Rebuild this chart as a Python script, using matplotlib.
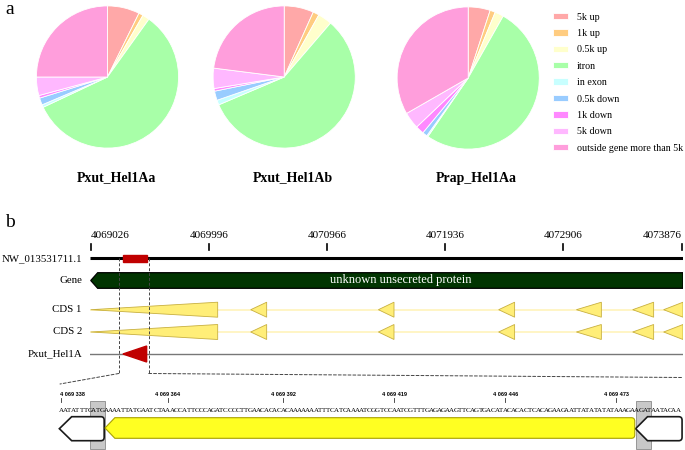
import matplotlib
matplotlib.use("Agg")
import matplotlib.pyplot as plt
from matplotlib.patches import Polygon, Rectangle, PathPatch, ConnectionPatch
from matplotlib.path import Path

plt.rcParams['font.family'] = ['Liberation Serif', 'DejaVu Serif']

# ---- panel a: insertion site distribution ----
categories = ['5k up', '1k up', '0.5k up', 'itron', 'in exon', '0.5k down',
              '1k down', '5k down', 'outside gene more than 5k']
cat_colors = ['#ffa8a8', '#ffcc80', '#ffffcc', '#a8ffa8', '#c8ffff', '#99ccff',
              '#ff88ff', '#ffb8ff', '#ff9edc']
pxut_hel1aa = [7.3, 1.0, 1.6, 58.1, 0.6, 1.6, 0.6, 4.2, 25.0]
pxut_hel1ab = [6.7, 1.4, 3.2, 57.3, 1.1, 2.1, 0.6, 4.6, 23.0]
prap_hel1aa = [5.0, 1.2, 2.0, 51.4, 0.3, 1.1, 1.9, 3.8, 33.3]
pie_names = ['Pxut_Hel1Aa', 'Pxut_Hel1Ab', 'Prap_Hel1Aa']

# ---- panel b: genomic locus ----
scaffold = 'NW_013531711.1'
region = (4069020, 4073887)
scale_ticks = [4069026, 4069996, 4070966, 4071936, 4072906, 4073876]
gene_label = 'unknown unsecreted protein'
gene_span = (4069026, 4073887)
cds_exons = [(4069026, 4070068), (4070339, 4070470), (4071387, 4071515),
             (4072374, 4072505), (4073012, 4073217), (4073474, 4073646),
             (4073728, 4073887)]
hel1a = (4069290, 4069485)
zoom_window = (4069256, 4069502)

# ---- zoomed sequence ----
seq_start = 4069338
sequence = ("AATATTTGATGAAAATTATGAATCTAAACCATTCCCAGATCCCCTTGAACACACACAAAAAAATTTC"
            "ATCAAAATCGGTCCAATCGTTTGAGAGAAGTTCAGTGACATACACACTCACAGAAGAATTATATATA"
            "TAAAGAAGATAATACAA")
seq_ticks = [4069338, 4069364, 4069392, 4069419, 4069446, 4069473]
tsd_boxes = [(4069345.0, 4069348.7), (4069477.7, 4069481.4)]
flank_left = (4069337.6, 4069340.6, 4069348.5)
te_body = (4069348.7, 4069351.1, 4069477.5)
flank_right = (4069477.7, 4069480.6, 4069489.0)

W, H = 685, 450
fig = plt.figure(figsize=(W / 100, H / 100), dpi=100)


def px_axes(x0, y0, x1, y1):
    return fig.add_axes([x0 / W, 1 - y1 / H, (x1 - x0) / W, (y1 - y0) / H])


def arrow_path(tip, shoulder, end, yc, hh, rx, ry):
    verts = [(tip, yc), (shoulder, yc - hh), (end - rx, yc - hh), (end, yc - hh),
             (end, yc - hh + ry), (end, yc + hh - ry), (end, yc + hh),
             (end - rx, yc + hh), (shoulder, yc + hh), (tip, yc)]
    codes = [Path.MOVETO, Path.LINETO, Path.LINETO, Path.CURVE3, Path.CURVE3,
             Path.LINETO, Path.CURVE3, Path.CURVE3, Path.LINETO, Path.CLOSEPOLY]
    return Path(verts, codes)


fig.text(5 / W, 1 - 9 / H, 'a', fontsize=14, va='center', ha='left')
fig.text(5 / W, 1 - 222 / H, 'b', fontsize=14, va='center', ha='left')

# pies
centers = [(107.5, 77), (284.2, 77), (468.2, 78)]
wedges = None
for vals, name, (cx, cy) in zip([pxut_hel1aa, pxut_hel1ab, prap_hel1aa], pie_names, centers):
    ax = px_axes(cx - 72.5, cy - 72.5, cx + 72.5, cy + 72.5)
    w, _ = ax.pie(vals, colors=cat_colors, startangle=90, counterclock=False,
                  wedgeprops=dict(edgecolor='white', linewidth=0.6))
    ax.set_xlim(-1.02, 1.02)
    ax.set_ylim(-1.02, 1.02)
    ax.text(0.12, -1.42, name, ha='center', va='center', fontsize=10,
            fontweight='bold', clip_on=False)
    if wedges is None:
        wedges = w

fig.legend(wedges, categories, loc='upper left', bbox_to_anchor=(553 / W, 1 - 12.5 / H),
           frameon=False, fontsize=7.2, handlelength=1.5, handleheight=0.6,
           handletextpad=0.9, labelspacing=0.74, borderpad=0, borderaxespad=0)

# genomic track
ax = px_axes(90, 228, 683, 374)
ax.set_xlim(*region)
ax.set_ylim(374, 228)
ax.axis('off')
lab = ax.get_yaxis_transform()

row_chrom, row_gene, row_cds1, row_cds2, row_te = 258.3, 280.5, 309.7, 332.0, 354.0

ax.plot(region, [row_chrom, row_chrom], color='black', lw=2.2, solid_capstyle='butt')
for i, t in enumerate(scale_ticks):
    ax.plot([t, t], [244, 250], color='black', lw=1.2)
    ha = 'left' if i == 0 else ('right' if i == len(scale_ticks) - 1 else 'center')
    ax.text(t, 236, str(t), ha=ha, va='center', fontsize=8)
ax.add_patch(Rectangle((hel1a[0], row_chrom - 3.8), hel1a[1] - hel1a[0], 7.6,
                       color='#c00000', zorder=3))

tip_len = 57
ax.add_patch(Polygon([(gene_span[0], row_gene), (gene_span[0] + tip_len, row_gene - 7.8),
                      (gene_span[1], row_gene - 7.8), (gene_span[1], row_gene + 7.8),
                      (gene_span[0] + tip_len, row_gene + 7.8)],
                     facecolor='#013501', edgecolor='black', lw=0.9))
ax.text(4071570, row_gene, gene_label, color='white', fontsize=9, ha='center', va='center')

for row in [row_cds1, row_cds2]:
    ax.plot([cds_exons[0][0], cds_exons[-1][1]], [row, row], color='#fff5c0', lw=1.3, zorder=1)
    for s, e in cds_exons:
        ax.add_patch(Polygon([(s, row), (e, row - 7.5), (e, row + 7.5)],
                             facecolor='#ffee78', edgecolor='#c8b040', lw=0.6, zorder=2))

ax.plot(region, [row_te, row_te], color='#777777', lw=1.0)
ax.add_patch(Polygon([(hel1a[0], row_te), (hel1a[1], row_te - 8), (hel1a[1], row_te + 8)],
                     color='#c00000', zorder=3))

for txt, row in [(scaffold, row_chrom), ('Gene', row_gene), ('CDS 1', row_cds1),
                 ('CDS 2', row_cds2), ('Pxut_Hel1A', row_te)]:
    ax.text(-0.0135, row, txt, transform=lab, ha='right', va='center', fontsize=7.8)

for x in zoom_window:
    ax.plot([x, x], [row_chrom, 373.5], color='#444444', lw=0.7, ls=(0, (3, 2)))

# zoomed sequence
axs = px_axes(57, 377, 684, 450)
axs.set_xlim(seq_start - 0.97, seq_start + 151.47)
axs.set_ylim(450, 377)
axs.axis('off')

for i, t in enumerate(seq_ticks):
    axs.plot([t, t], [398, 402], color='#333333', lw=0.6)
    axs.text(t - (0.3 if i == 0 else 0), 394, f'{t:,}'.replace(',', ' '),
             ha='left' if i == 0 else 'center', va='center', fontsize=4,
             family='Liberation Sans', fontweight='bold')

for i, ch in enumerate(sequence):
    axs.text(seq_start + i, 410.7, ch, ha='center', va='center', fontsize=5,
             family='Liberation Serif', color='black', zorder=4)

for s, e in tsd_boxes:
    axs.add_patch(Rectangle((s, 401), e - s, 48, facecolor='#c8c8c8',
                            edgecolor='#8a8a8a', lw=0.6, zorder=1))

yc = 428.7
for tip, sh, end in [flank_left, flank_right]:
    axs.add_patch(PathPatch(arrow_path(tip, sh, end, yc, 12, 0.8, 3.5),
                            facecolor='white', edgecolor='#1a1a1a', lw=1.2, zorder=3))
tip, sh, end = te_body
axs.add_patch(PathPatch(arrow_path(tip, sh, end, yc - 0.7, 10.3, 0.8, 3.5),
                        facecolor='#ffff22', edgecolor='#a8a000', lw=0.8, zorder=3))

# dashed zoom connectors
for xa, ya, xb, yb in [(zoom_window[0], 373.5, seq_start - 0.24, 384),
                       (zoom_window[1], 373.5, seq_start + 151.2, 377.5)]:
    con = ConnectionPatch(xyA=(xa, ya), coordsA=ax.transData, xyB=(xb, yb),
                          coordsB=axs.transData, color='#444444', lw=0.7,
                          ls=(0, (3, 2)))
    fig.add_artist(con)

fig.savefig('out.png', dpi=100)
